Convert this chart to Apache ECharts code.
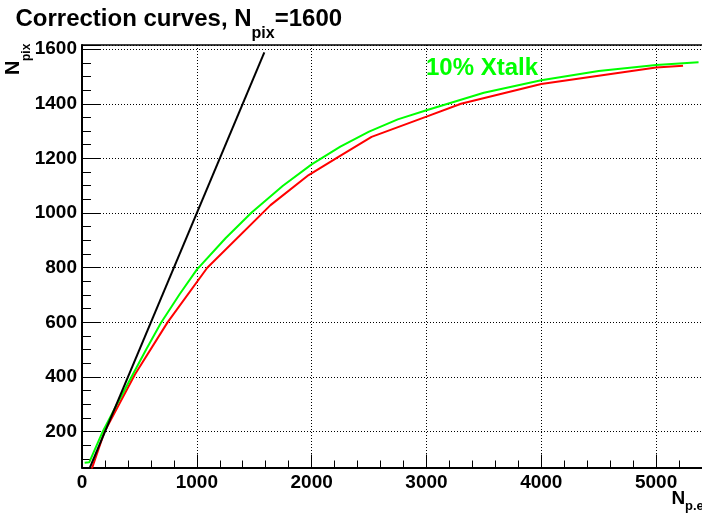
<!DOCTYPE html>
<html>
<head>
<meta charset="utf-8">
<script src="https://cdn.jsdelivr.net/npm/echarts@6/dist/echarts.min.js"></script>
<style>
  html, body { margin: 0; padding: 0; background: #ffffff; }
  #chart { width: 702px; height: 513px; }
</style>
</head>
<body>
<div id="chart"></div>
<script>
// Identity reference: N_pix = N_p.e
const linearNpe  = [0, 1588];
const linearNpix = [0, 1588];

// Correction curve with 10% crosstalk
const xtalkNpe  = [23, 63, 180, 300, 433, 560, 687, 850, 1000, 1250, 1475, 1750, 2000, 2250, 2500, 2750, 3000, 3500, 4000, 4500, 5000, 5370];
const xtalkNpix = [86, 88, 200, 297, 402, 502, 598, 703, 793, 908, 1001, 1100, 1178, 1243, 1298, 1343, 1376, 1440, 1486, 1520, 1542, 1552];

// Correction curve without crosstalk
const plainNpe  = [82, 196, 462, 745, 1091, 1642, 1974, 2234, 2522, 3000, 3301, 4000, 5000, 5235];
const plainNpix = [60, 200, 410, 600, 800, 1029, 1139, 1206, 1279, 1353, 1400, 1472, 1533, 1539];

const FONT = "'Liberation Sans', Arial, Helvetica, sans-serif";
const zip = (xs, ys) => xs.map((x, i) => [x, ys[i]]);

// measure text widths so sub-scripted pieces can be chained
const measureCtx = document.createElement('canvas').getContext('2d');
function textWidth(text, font) {
  measureCtx.font = font;
  return measureCtx.measureText(text).width;
}

const dotted = { color: '#000', width: 1, type: [1, 2] };
const plainNumber = v => String(Math.round(v));

const titleFont = "bold 24px " + FONT;
const titleSubFont = "bold 16px " + FONT;
const titleX0 = 15.5;
const titleX1 = titleX0 + textWidth('Correction curves, N', titleFont);
const titleX2 = titleX1 + textWidth('pix', titleSubFont);

const chart = echarts.init(document.getElementById('chart'), null, { renderer: 'canvas' });

chart.setOption({
  animation: false,
  backgroundColor: '#ffffff',
  grid: { left: 82, top: 45, right: -4, bottom: 45.5, containLabel: false },
  xAxis: [
    {
      type: 'value',
      position: 'bottom',
      min: 0,
      max: 5400,
      interval: 1000,
      axisLine: { show: true, lineStyle: { color: '#000', width: 2 } },
      axisTick: { show: true, inside: true, length: 13, lineStyle: { color: '#000', width: 1 } },
      minorTick: { show: true, splitNumber: 5, length: 7, lineStyle: { color: '#000', width: 1 } },
      splitLine: { show: true, lineStyle: dotted },
      axisLabel: {
        show: true, margin: 6, color: '#000', fontFamily: FONT, fontWeight: 'bold', fontSize: 19,
        showMaxLabel: false, formatter: plainNumber
      }
    },
    {
      type: 'value',
      position: 'top',
      min: 0,
      max: 5400,
      axisLine: { show: true, lineStyle: { color: '#000', width: 1.5 } },
      axisTick: { show: false },
      axisLabel: { show: false },
      splitLine: { show: false }
    }
  ],
  yAxis: {
    type: 'value',
    min: 69,
    max: 1615,
    splitNumber: 8,
    minInterval: 200,
    maxInterval: 200,
    axisLine: { show: true, lineStyle: { color: '#000', width: 2 } },
    axisTick: { show: true, inside: true, length: 18, lineStyle: { color: '#000', width: 1 } },
    minorTick: { show: true, splitNumber: 4, length: 9, lineStyle: { color: '#000', width: 1 } },
    splitLine: { show: true, lineStyle: dotted },
    axisLabel: {
      show: true, margin: 5, color: '#000', fontFamily: FONT, fontWeight: 'bold', fontSize: 19,
      showMinLabel: false, showMaxLabel: false, formatter: plainNumber
    }
  },
  series: [
    {
      name: 'no crosstalk',
      type: 'line',
      data: zip(plainNpe, plainNpix),
      showSymbol: false,
      clip: true,
      lineStyle: { color: '#ff0000', width: 2 },
      z: 3
    },
    {
      name: '10% Xtalk',
      type: 'line',
      data: zip(xtalkNpe, xtalkNpix),
      showSymbol: false,
      clip: true,
      lineStyle: { color: '#00ff00', width: 2 },
      z: 4
    },
    {
      name: 'linear',
      type: 'line',
      data: zip(linearNpe, linearNpix),
      showSymbol: false,
      clip: true,
      lineStyle: { color: '#000000', width: 2 },
      z: 5
    }
  ],
  graphic: [
    // title
    { type: 'text', x: titleX0, y: 19, style: { text: 'Correction curves, N', font: titleFont, fill: '#000', align: 'left', verticalAlign: 'middle' } },
    { type: 'text', x: titleX1, y: 34, style: { text: 'pix', font: titleSubFont, fill: '#000', align: 'left', verticalAlign: 'middle' } },
    { type: 'text', x: titleX2, y: 19, style: { text: '=1600', font: titleFont, fill: '#000', align: 'left', verticalAlign: 'middle' } },
    // y axis title (rotated)
    { type: 'text', x: 13.4, y: 75, rotation: Math.PI / 2, style: { text: 'N', font: "bold 20px " + FONT, fill: '#000', align: 'left', verticalAlign: 'middle' } },
    { type: 'text', x: 26.5, y: 61, rotation: Math.PI / 2, style: { text: 'pix', font: "bold 12px " + FONT, fill: '#000', align: 'left', verticalAlign: 'middle' } },
    // x axis title
    { type: 'text', x: 671.5, y: 498.5, style: { text: 'N', font: "bold 19px " + FONT, fill: '#000', align: 'left', verticalAlign: 'middle' } },
    { type: 'text', x: 685, y: 506.5, style: { text: 'p.e', font: "bold 13px " + FONT, fill: '#000', align: 'left', verticalAlign: 'middle' } },
    // curve annotation
    { type: 'text', x: 426, y: 68.5, style: { text: '10% Xtalk', font: "bold 24px " + FONT, fill: '#00ff00', align: 'left', verticalAlign: 'middle' } }
  ]
});
</script>
</body>
</html>
